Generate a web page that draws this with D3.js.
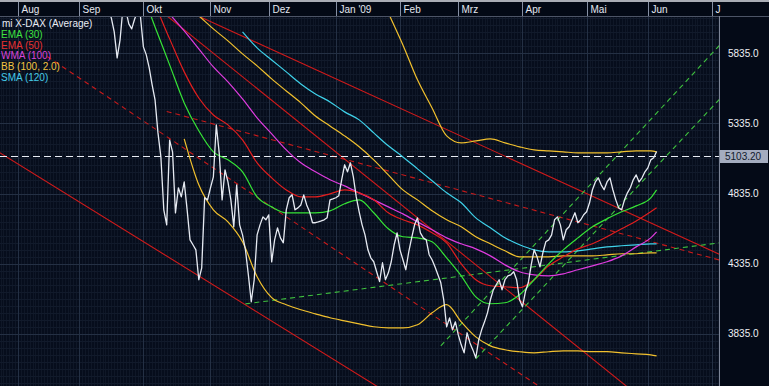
<!DOCTYPE html>
<html><head><meta charset="utf-8">
<script src="https://cdn.jsdelivr.net/npm/d3@7"></script>
<style>html,body{margin:0;padding:0;background:#040a17;overflow:hidden}svg{display:block}</style>
</head><body><svg id="c" width="769" height="386"></svg>
<script>
// ---------------- data ----------------
const calendarStart = "2008-07-21", calendarEnd = "2009-07-15";
const monthLabels = ["Aug","Sep","Okt","Nov","Dez","Jan '09","Feb","Mrz","Apr","Mai","Jun","J"];
const monthStarts = ["2008-08-01","2008-09-01","2008-10-01","2008-11-03","2008-12-01","2009-01-01","2009-02-02","2009-03-02","2009-04-01","2009-05-01","2009-06-01","2009-07-01"];
const yTicks = [3835, 4335, 4835, 5335, 5835];
const lastPrice = 5103.20;
const legendMain = "mi X-DAX (Average)";
const legendItems = ["EMA (30)","EMA (50)","WMA (100)","BB (100, 2.0)","SMA (120)"];

// daily X-DAX (weekdays from priceStart)
const priceStart = "2008-09-08";
const price = [6250,6280,6350,6300,6200,6150,6086,5987,5802,5930,
6160,6140,6044,6008,6079,6130,6094,5880,5823,5730,
5609,5502,5267,5096,4719,4612,5216,5132,4697,4876,
4811,4918,4719,4505,4470,4434,4221,4306,4805,4790,
4876,4954,5324,5125,4790,5004,4918,4790,4598,4897,
4612,4541,4434,4256,4064,4221,4541,4612,4669,4648,
4683,4348,4505,4590,4519,4484,4719,4805,4826,4719,
4733,4754,4826,4754,4705,4627,4627,4633,4640,4648,
4662,4790,4797,4805,4819,4933,5040,4990,5054,4954,
4811,4705,4612,4541,4434,4377,4349,4278,4207,4342,
4221,4270,4349,4470,4555,4434,4363,4292,4420,4519,
4612,4662,4555,4519,4505,4399,4363,4313,4256,4199,
4078,3885,3949,3864,3921,3828,3757,3700,3843,3771,
3721,3664,3793,3864,3921,3985,4078,4149,4185,4221,
4149,4221,4249,4256,4278,4221,4078,4028,4135,4199,
4327,4434,4384,4313,4413,4491,4505,4541,4648,4669,
4612,4505,4577,4598,4648,4698,4627,4648,4684,4705,
4769,4862,4918,4947,4897,4862,4918,4947,4862,4790,
4733,4719,4790,4840,4876,4933,4968,4918,4947,4990,
5018,5075,5090,5135];

// indicator readings (weekly samples)
const sampleDates = ["2008-09-30","2008-10-07","2008-10-14","2008-10-21","2008-10-28","2008-11-04","2008-11-11","2008-11-18","2008-11-25","2008-12-02","2008-12-09","2008-12-16","2008-12-23","2008-12-30","2009-01-06","2009-01-13","2009-01-20","2009-01-27","2009-02-03","2009-02-10","2009-02-17","2009-02-24","2009-03-03","2009-03-10","2009-03-17","2009-03-24","2009-03-31","2009-04-07","2009-04-14","2009-04-21","2009-04-28","2009-05-05","2009-05-12","2009-05-19","2009-05-26","2009-06-02","2009-06-04"];
const ema30 = [6300,6022,5752,5481,5282,5132,5075,4990,4811,4740,4698,4698,4698,4712,4762,4790,4698,4584,4527,4519,4491,4377,4249,4099,4050,4057,4114,4221,4334,4434,4519,4598,4655,4705,4747,4804,4861];
const ema50 = [6400,6179,5937,5702,5516,5395,5324,5217,5054,4947,4861,4811,4811,4833,4861,4840,4790,4698,4648,4612,4555,4484,4334,4221,4178,4171,4164,4221,4320,4384,4441,4477,4527,4584,4640,4705,4733];
const wma100 = [6500,6250,6115,5994,5866,5737,5631,5509,5374,5260,5146,5054,4990,4933,4890,4840,4790,4740,4690,4633,4577,4519,4477,4441,4391,4327,4278,4256,4249,4263,4292,4320,4349,4391,4455,4519,4562];
const bbUpper = [null,null,null,7350,7300,7250,7200,7150,7100,7000,6950,6900,6800,6700,6600,6500,6350,6122,5894,5645,5445,5246,5196,5210,5224,5196,5168,5146,5139,5132,5125,5125,5125,5132,5139,5139,5132];
const bbMiddle = [null,null,null,6186,6101,6008,5923,5830,5745,5652,5566,5481,5388,5317,5246,5168,5075,4968,4861,4790,4712,4648,4598,4527,4477,4427,4384,4384,4384,4391,4391,4391,4398,4406,4406,4413,4413];
const bbLower = [null,null,null,5224,4897,4719,4633,4491,4242,4093,4043,4007,3978,3950,3928,3907,3886,3878,3878,3900,3985,4043,3921,3814,3750,3722,3708,3700,3708,3714,3714,3708,3708,3700,3693,3686,3679];
const sma120 = [null,null,null,null,null,null,null,5987,5873,5787,5702,5616,5545,5488,5417,5360,5267,5175,5096,5011,4926,4840,4769,4662,4591,4520,4470,4434,4420,4420,4427,4441,4455,4463,4470,4477,4477];

// drawn trend lines: [startDate, startValue, endDate, endValue]
const redTrendLines = [
  ["2008-10-17", 6165, "2009-07-06", 4398],
  ["2008-10-10", 6119, "2009-05-22", 3440],
  ["2008-07-23", 5136, "2009-01-30", 3373]
];
const redDashedLines = [
  ["2008-08-15", 5812, "2009-04-10", 3443],
  ["2008-10-13", 5420, "2009-07-06", 4359]
];
const greenDashedLines = [
  ["2008-11-19", 4049, "2009-07-06", 4485],
  ["2009-02-20", 3750, "2009-07-06", 5901],
  ["2009-03-10", 3657, "2009-07-06", 5516]
];

// ---------------- chart ----------------
const W = 769, H = 386, plotR = 719, plotT = 16, plotB = 386;
const svg = d3.select("#c");
const FONT = "'Liberation Sans', Arial, sans-serif";

const parse = d3.utcParse("%Y-%m-%d"), fmt = d3.utcFormat("%Y-%m-%d");
const days = d3.utcDay.range(parse(calendarStart), parse(calendarEnd))
  .filter(d => d.getUTCDay() !== 0 && d.getUTCDay() !== 6);
const dayIndex = new Map(days.map((d, i) => [fmt(d), i]));
const I = s => dayIndex.get(s);

const x = d3.scaleLinear().domain([I("2008-08-01"), I("2009-07-01")]).range([18, 712]);
const y = d3.scaleLinear().domain([3835, 5835]).range([333.9, 53.2]);

// backgrounds
svg.append("rect").attr("width", W).attr("height", H).attr("fill", "#040a17");
svg.append("rect").attr("x", 0).attr("y", plotT).attr("width", plotR).attr("height", plotB - plotT).attr("fill", "#060d1c");

svg.append("defs").append("clipPath").attr("id", "plotclip")
  .append("rect").attr("x", 0).attr("y", plotT + 1).attr("width", plotR).attr("height", plotB - plotT);

const grid = svg.append("g").attr("clip-path", "url(#plotclip)").attr("shape-rendering", "crispEdges");
// minor vertical grid: one per weekday
grid.selectAll("line.mv").data(days.map((d, i) => i)).join("line")
  .attr("x1", d => Math.round(x(d)) + 0.5).attr("x2", d => Math.round(x(d)) + 0.5)
  .attr("y1", plotT).attr("y2", plotB).attr("stroke", "#0f1727").attr("stroke-width", 1);
// minor horizontal grid every 50 points
grid.selectAll("line.mh").data(d3.range(3335, 6200, 50)).join("line")
  .attr("x1", 0).attr("x2", plotR)
  .attr("y1", d => Math.round(y(d)) + 0.5).attr("y2", d => Math.round(y(d)) + 0.5)
  .attr("stroke", "#111a2b").attr("stroke-width", 1);
// major grid
grid.selectAll("line.Mh").data(yTicks).join("line")
  .attr("x1", 0).attr("x2", plotR)
  .attr("y1", d => Math.round(y(d)) + 0.5).attr("y2", d => Math.round(y(d)) + 0.5)
  .attr("stroke", "#243044").attr("stroke-width", 1);
grid.selectAll("line.Mv").data(monthStarts).join("line")
  .attr("x1", d => Math.round(x(I(d))) + 0.5).attr("x2", d => Math.round(x(I(d))) + 0.5)
  .attr("y1", plotT).attr("y2", plotB).attr("stroke", "#243044").attr("stroke-width", 1);

const plot = svg.append("g").attr("clip-path", "url(#plotclip)");

// trend lines
function drawSegs(data, color, dash, width) {
  plot.append("g").selectAll("line").data(data).join("line")
    .attr("x1", d => x(I(d[0]))).attr("y1", d => y(d[1]))
    .attr("x2", d => x(I(d[2]))).attr("y2", d => y(d[3]))
    .attr("stroke", color).attr("stroke-width", width)
    .attr("stroke-dasharray", dash);
}
drawSegs(redTrendLines, "#d01a1a", null, 1.1);
drawSegs(redDashedLines, "#c81a1a", "5,4", 1.1);
drawSegs(greenDashedLines, "#3fc23f", "5,4", 1.1);

// current price level
plot.append("line").attr("x1", 0).attr("x2", plotR)
  .attr("y1", Math.round(y(lastPrice)) + 0.5).attr("y2", Math.round(y(lastPrice)) + 0.5)
  .attr("stroke", "#e8ecf4").attr("stroke-width", 1.2).attr("stroke-dasharray", "7,4");

// indicator lines
const maLine = d3.line().defined(d => d[1] != null).x(d => x(d[0])).y(d => y(d[1])).curve(d3.curveMonotoneX);
function drawMA(values, color) {
  const pts = sampleDates.map((d, k) => [I(d), values[k]]);
  plot.append("path").datum(pts).attr("d", maLine).attr("fill", "none")
    .attr("stroke", color).attr("stroke-width", 1.2).attr("stroke-linejoin", "round");
}
drawMA(bbLower, "#f2c12e");
drawMA(bbMiddle, "#f2c12e");
drawMA(bbUpper, "#f2c12e");
drawMA(sma120, "#3fd2ea");
drawMA(wma100, "#e03ce0");
drawMA(ema50, "#e21e1e");
drawMA(ema30, "#36e436");

// price line
const p0 = I(priceStart);
const priceLine = d3.line().x(d => x(d[0])).y(d => y(d[1]));
plot.append("path").datum(price.map((v, k) => [p0 + k, v])).attr("d", priceLine)
  .attr("fill", "none").attr("stroke", "#e6eaf2").attr("stroke-width", 1.3).attr("stroke-linejoin", "round");

// legend
const legendColors = ["#3fe23f", "#e63030", "#d844d8", "#f2c440", "#44cbe8"];
const leg = svg.append("g").style("font-family", FONT).style("font-size", "10px");
leg.append("text").attr("x", 2).attr("y", 27).attr("fill", "#e8ecf4").text(legendMain);
leg.selectAll("text.li").data(legendItems).join("text")
  .attr("x", 1).attr("y", (d, i) => 37.7 + i * 10.8)
  .attr("fill", (d, i) => legendColors[i]).text(d => d);

// header
svg.append("rect").attr("x", 0).attr("y", 0).attr("width", W).attr("height", plotT).attr("fill", "#030915");
svg.append("rect").attr("x", 0).attr("y", 0).attr("width", W).attr("height", 2).attr("fill", "#a9adb5");
svg.append("line").attr("x1", 0).attr("x2", W).attr("y1", plotT + 0.5).attr("y2", plotT + 0.5)
  .attr("stroke", "#4c5466").attr("shape-rendering", "crispEdges");
const hdr = svg.append("g").style("font-family", FONT).style("font-size", "10px");
hdr.selectAll("line").data(monthStarts).join("line")
  .attr("x1", d => Math.round(x(I(d))) + 0.5).attr("x2", d => Math.round(x(I(d))) + 0.5)
  .attr("y1", 2).attr("y2", plotT).attr("stroke", "#8690a4").attr("shape-rendering", "crispEdges");
hdr.selectAll("text").data(monthLabels).join("text")
  .attr("x", (d, i) => Math.round(x(I(monthStarts[i]))) + 3.5).attr("y", 13)
  .attr("fill", "#e4e8f0").text(d => d);

// right axis
svg.append("line").attr("x1", plotR + 0.5).attr("x2", plotR + 0.5).attr("y1", plotT).attr("y2", plotB)
  .attr("stroke", "#7c8496").attr("shape-rendering", "crispEdges");
const ax = svg.append("g").style("font-family", FONT).style("font-size", "10px");
ax.selectAll("text").data(yTicks).join("text")
  .attr("x", 728).attr("y", d => y(d) + 3.5).attr("fill", "#eef0f4").text(d => d3.format(".1f")(d));
const ty = y(lastPrice);
ax.append("rect").attr("x", 720).attr("y", Math.round(ty) - 6).attr("width", 48).attr("height", 13)
  .attr("fill", "#a4acbf");
ax.append("text").attr("x", 725).attr("y", Math.round(ty) + 4).attr("fill", "#111a2c").text(d3.format(".2f")(lastPrice));
</script></body></html>
